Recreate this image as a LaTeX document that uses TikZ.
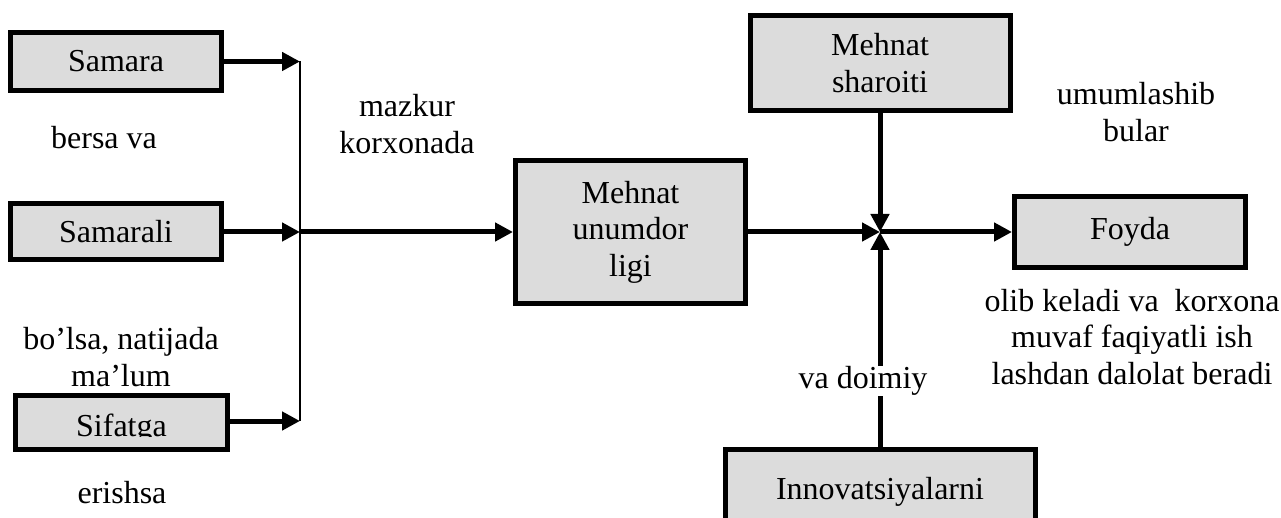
\documentclass[tikz,border=0pt]{standalone}
\usepackage{fontspec}
\setmainfont{Liberation Serif}
\usetikzlibrary{arrows.meta}
\definecolor{boxgray}{HTML}{DCDCDC}
\tikzset{
  box/.style={draw=black, line width=5pt, fill=boxgray, inner sep=0pt, align=center,
    font=\fontsize{32}{36.6}\selectfont},
  lbl/.style={inner sep=0pt, align=center, font=\fontsize{32}{36.6}\selectfont},
  thick arrow/.style={line width=5pt, -{Triangle[length=18pt,width=18pt]}},
  bar/.style={line width=2pt}
}
\begin{document}
\begin{tikzpicture}[x=1pt,y=-1pt]
\clip (0,0) rectangle (1281,518);
\useasboundingbox (0,0) rectangle (1281,518);
% left boxes
\node[box, minimum width=211pt, minimum height=58pt] (samara) at (116,61.5) {Samara};
\node[box, minimum width=211pt, minimum height=56pt] (samarali) at (116,232) {Samarali};
\node[box, minimum width=212pt, minimum height=54pt] (sifatga) at (121.5,422.5) {};
\begin{scope}
  \clip ([shift={(2.5pt,-2.5pt)}]sifatga.north west) rectangle (228,436);
  \node[lbl, anchor=base] (sifatgatext) at (121.5,436) {Sifatga};
\end{scope}
% bar coordinates
\coordinate (b1) at (300,61.5);
\coordinate (b2) at (300,232);
\coordinate (b3) at (300,421);
\draw[thick arrow] (samara.east) -- (b1);
\draw[thick arrow] (samarali.east) -- (b2);
\draw[thick arrow] (sifatga.east |- b3) -- (b3);
\draw[bar] (b1) -- (b3);
% center box
\node[box, minimum width=230pt, minimum height=143pt] (unum) at (630.5,232) {Mehnat\\unumdor\\ligi};
\draw[thick arrow] (b2) -- (unum.west);
% junction
\coordinate (j) at (880,232);
\node[box, minimum width=260pt, minimum height=95pt] (shar) at (880,63) {Mehnat\\sharoiti};
\node[box, minimum width=231pt, minimum height=71pt] (foyda) at (1130,232) {Foyda};
\node[box, minimum width=310pt, minimum height=84pt] (innov) at (880,491.5) {Innovatsiyalarni};
\draw[thick arrow] (unum.east) -- (j);
\draw[thick arrow] (shar.south) -- (j);
\draw[thick arrow] (innov.north) -- (j);
\draw[thick arrow] (j) -- (foyda.west);
% labels
\node[lbl] (t1) at (104,138) {bersa va};
\node[lbl] (t2) at (121,357) {bo’lsa, natijada\\ma’lum};
\node[lbl] (t3) at (122,493) {erishsa};
\node[lbl] (t4) at (407,124) {mazkur\\korxonada};
\node[lbl] (t5) at (1136,112) {umumlashib\\bular};
\node[lbl] (t6) at (1132,337) {olib keladi va\ \ korxona\\muvaf faqiyatli ish\\lashdan dalolat beradi};
\node[lbl, fill=white] (t7) at (863,381) {va doimiy};
\end{tikzpicture}
\end{document}
